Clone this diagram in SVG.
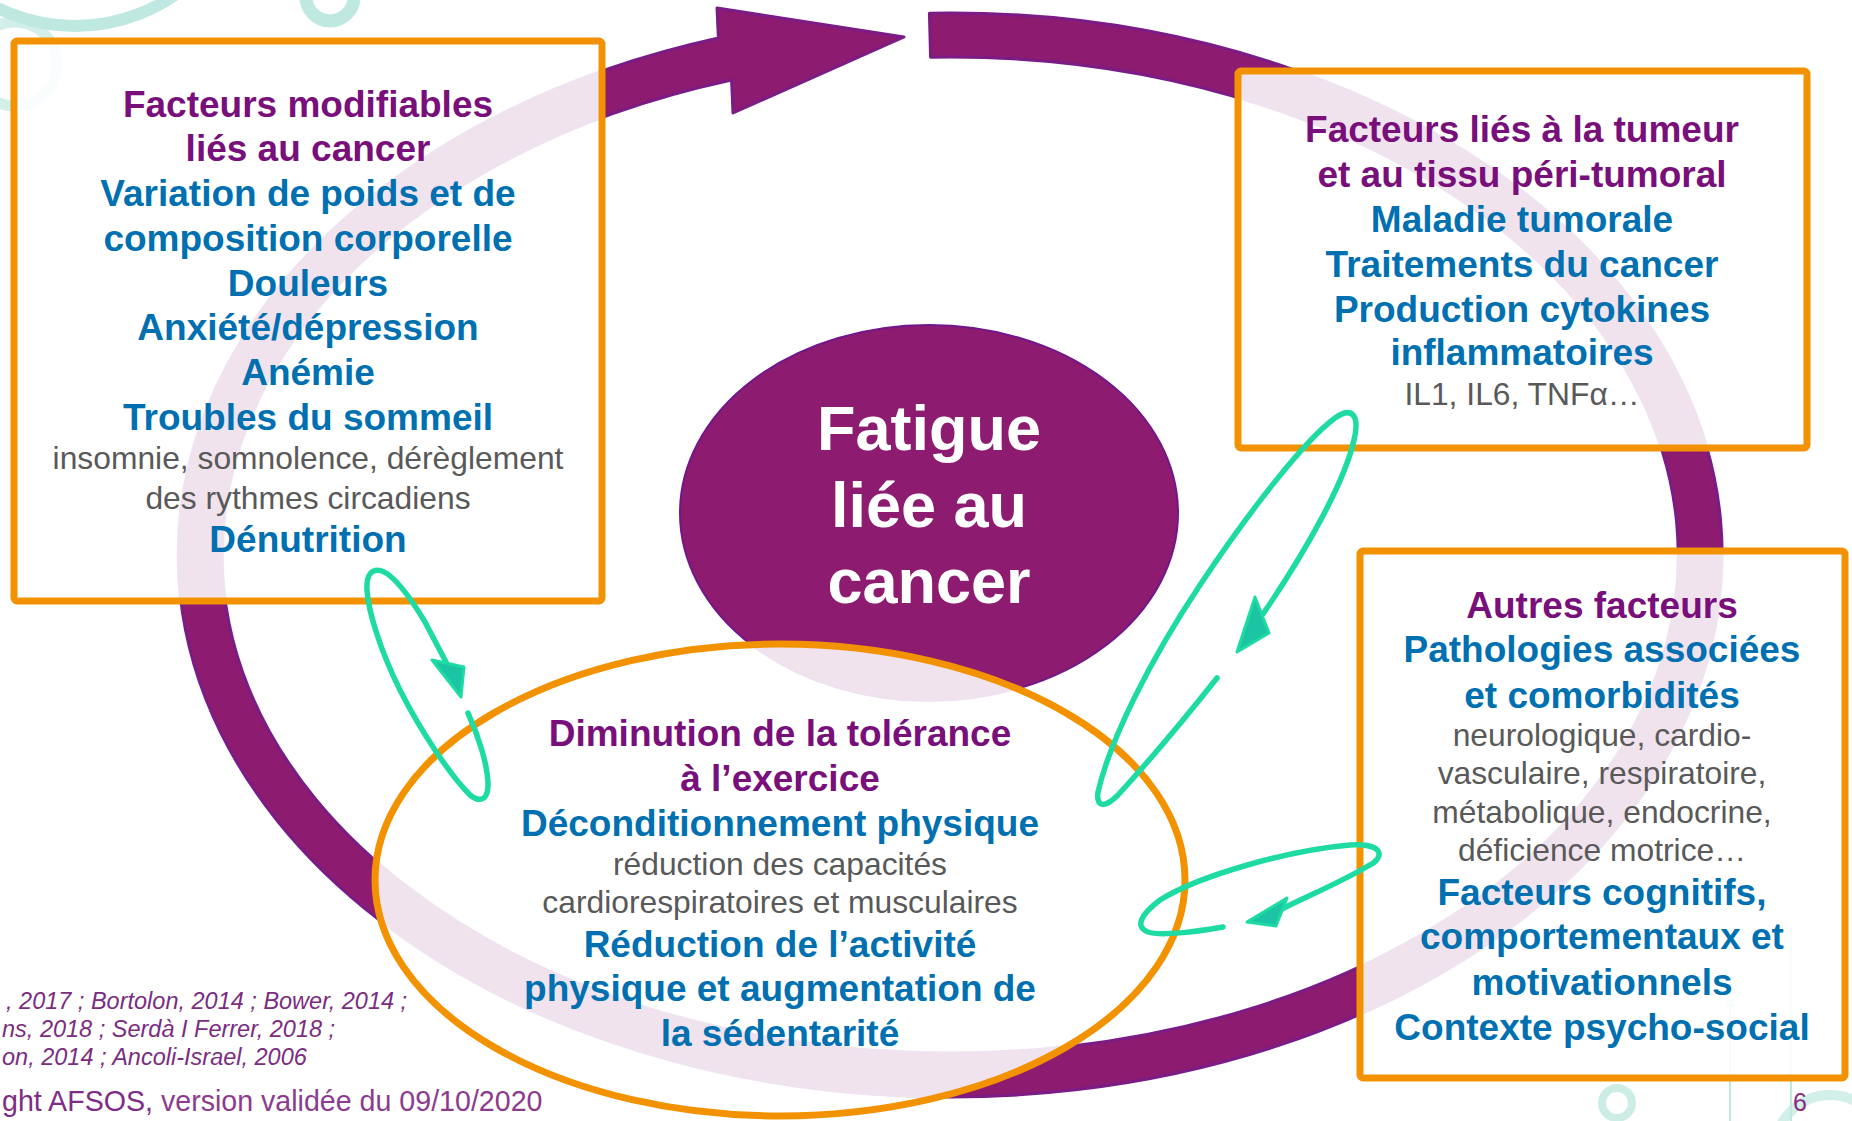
<svg xmlns="http://www.w3.org/2000/svg" width="1852" height="1121" viewBox="0 0 1852 1121">
<defs>
<style>
.t{font-family:"Liberation Sans",Arial,sans-serif;text-anchor:middle}
.h{font-weight:bold;font-size:37px;fill:#780F7A}
.b{font-weight:bold;font-size:37px;fill:#0070B0}
.g{font-size:31.8px;fill:#595959}
.w{font-weight:bold;font-size:63px;fill:#fff}
.cite{font-family:"Liberation Sans",Arial,sans-serif;font-style:italic;font-size:23.5px;fill:#7B2D80}
.box{fill:#fff;fill-opacity:0.88;stroke:#F39200;stroke-width:7}
.deco{fill:none;stroke:#BFE8E0}
.link{fill:none;stroke:#1EDBA3;stroke-width:5.5;stroke-linecap:round;stroke-linejoin:round}
.head{fill:#1BC4A2;stroke:#1EDBA3;stroke-width:3;stroke-linejoin:round}
</style>
</defs>
<rect width="1852" height="1121" fill="#fff"/>

<g id="decoration">
<circle class="deco" cx="75" cy="-150" r="176" stroke-width="12"/>
<circle class="deco" cx="15" cy="64" r="42" stroke-width="11" opacity="0.7"/>
<circle class="deco" cx="330" cy="-3" r="24" stroke-width="13"/>
<circle class="deco" cx="1617" cy="1103" r="15" stroke-width="8" opacity="0.8"/>
<line class="deco" x1="1730" y1="1003" x2="1730" y2="1121" stroke-width="2"/>
<circle class="deco" cx="1730" cy="1003" r="3" stroke-width="2"/>
<line class="deco" x1="1791" y1="926" x2="1791" y2="1121" stroke-width="2"/>
<circle class="deco" cx="1830" cy="1150" r="55" stroke-width="10" opacity="0.7"/>
</g>

<g id="cycle-ring">
<path d="M 929.4 13.2 A 772 542 0 1 1 718.4 38 L 717 8 L 904 37 L 733 113 L 731.6 80 A 728 498 0 1 0 930.6 57.2 Z" fill="#8D1C71" stroke="#7B1B86" stroke-width="3" stroke-linejoin="round"/>
</g>

<g id="fatigue">
<ellipse cx="929" cy="513" rx="249" ry="188" fill="#8D1C71" stroke="#72168A" stroke-width="2"/>
<text class="t w" x="929" y="450">Fatigue</text>
<text class="t w" x="929" y="527">liée au</text>
<text class="t w" x="929" y="603">cancer</text>
</g>

<g id="facteurs-modifiables">
<rect class="box" x="14" y="41" width="588" height="560" rx="3"/>
<text class="t h" x="308" y="117">Facteurs modifiables</text>
<text class="t h" x="308" y="161">liés au cancer</text>
<text class="t b" x="308" y="206">Variation de poids et de</text>
<text class="t b" x="308" y="251">composition corporelle</text>
<text class="t b" x="308" y="296">Douleurs</text>
<text class="t b" x="308" y="340">Anxiété/dépression</text>
<text class="t b" x="308" y="385">Anémie</text>
<text class="t b" x="308" y="430">Troubles du sommeil</text>
<text class="t g" x="308" y="469">insomnie, somnolence, dérèglement</text>
<text class="t g" x="308" y="509">des rythmes circadiens</text>
<text class="t b" x="308" y="552">Dénutrition</text>
</g>

<g id="facteurs-tumeur">
<rect class="box" x="1238" y="71" width="569" height="377" rx="3"/>
<text class="t h" x="1522" y="142">Facteurs liés à la tumeur</text>
<text class="t h" x="1522" y="187">et au tissu péri-tumoral</text>
<text class="t b" x="1522" y="232">Maladie tumorale</text>
<text class="t b" x="1522" y="277">Traitements du cancer</text>
<text class="t b" x="1522" y="322">Production cytokines</text>
<text class="t b" x="1522" y="365">inflammatoires</text>
<text class="t g" x="1522" y="405">IL1, IL6, TNFα…</text>
</g>

<g id="autres-facteurs">
<rect class="box" x="1360" y="551" width="485" height="527" rx="3"/>
<text class="t h" x="1602" y="618">Autres facteurs</text>
<text class="t b" x="1602" y="662">Pathologies associées</text>
<text class="t b" x="1602" y="708">et comorbidités</text>
<text class="t g" x="1602" y="746">neurologique, cardio-</text>
<text class="t g" x="1602" y="784">vasculaire, respiratoire,</text>
<text class="t g" x="1602" y="823">métabolique, endocrine,</text>
<text class="t g" x="1602" y="861">déficience motrice…</text>
<text class="t b" x="1602" y="905">Facteurs cognitifs,</text>
<text class="t b" x="1602" y="949">comportementaux et</text>
<text class="t b" x="1602" y="995">motivationnels</text>
<text class="t b" x="1602" y="1040">Contexte psycho-social</text>
</g>

<g id="tolerance-exercice">
<ellipse class="box" cx="780" cy="880" rx="405" ry="236"/>
<text class="t h" x="780" y="746">Diminution de la tolérance</text>
<text class="t h" x="780" y="791">à l’exercice</text>
<text class="t b" x="780" y="836">Déconditionnement physique</text>
<text class="t g" x="780" y="875">réduction des capacités</text>
<text class="t g" x="780" y="913">cardiorespiratoires et musculaires</text>
<text class="t b" x="780" y="957">Réduction de l’activité</text>
<text class="t b" x="780" y="1001">physique et augmentation de</text>
<text class="t b" x="780" y="1046">la sédentarité</text>
</g>

<g id="connectors">
<path class="link" d="M 468 713 C 478 735 488 765 488 785 C 488 800 480 803 470 795 C 450 775 420 730 400 690 C 380 650 368 610 367 590 C 366 573 373 568 382 571 C 395 576 410 597 425 622 L 446 662"/>
<polygon class="head" points="432,660 464,667 461,697"/>
<path class="link" d="M 1217 678 C 1190 712 1150 760 1118 795 C 1105 808 1096 808 1098 792 C 1110 740 1150 660 1200 585 C 1250 510 1305 440 1335 418 C 1352 406 1360 415 1354 440 C 1345 480 1310 545 1263 614"/>
<polygon class="head" points="1255,597 1269,633 1237,652"/>
<path class="link" d="M 1223 927 C 1195 932 1160 936 1148 932 C 1135 927 1140 915 1160 900 C 1200 875 1290 850 1350 845 C 1385 843 1385 858 1368 866 C 1345 880 1310 895 1282 909"/>
<polygon class="head" points="1287,898 1276,926 1247,922"/>
</g>

<g id="footer">
<text class="cite" x="6" y="1009">, 2017 ; Bortolon, 2014 ; Bower, 2014 ;</text>
<text class="cite" x="2" y="1037">ns, 2018 ; Serdà I Ferrer, 2018 ;</text>
<text class="cite" x="2" y="1065">on, 2014 ; Ancoli-Israel, 2006</text>
<text x="2" y="1111" font-family="Liberation Sans, Arial, sans-serif" font-size="28.6" fill="#7E2C86">ght AFSOS, <tspan fill="#8D3B8E">version validée du 09/10/2020</tspan></text>
<text x="1800" y="1111" font-family="Liberation Sans, Arial, sans-serif" font-size="25" fill="#8B2A7C" text-anchor="middle">6</text>
</g>
</svg>
